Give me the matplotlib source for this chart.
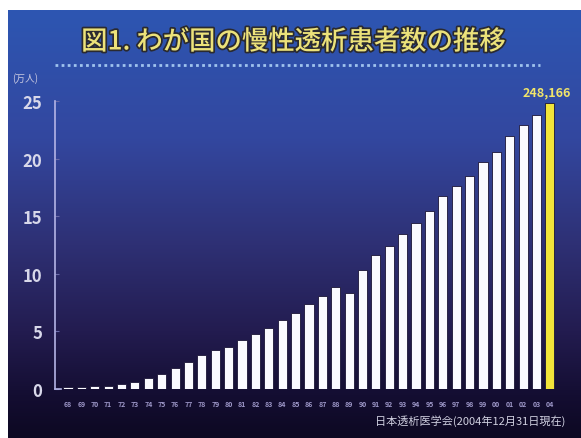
import numpy as np
import matplotlib
matplotlib.use("Agg")
import matplotlib.pyplot as plt
from matplotlib.colors import LinearSegmentedColormap
from matplotlib.lines import Line2D
from matplotlib.patheffects import withStroke

plt.rcParams['font.family'] = ['Noto Sans CJK JP', 'DejaVu Sans']

# data (unit: 10,000 persons)
years = ['68', '69', '70', '71', '72', '73', '74', '75', '76', '77', '78', '79',
         '80', '81', '82', '83', '84', '85', '86', '87', '88', '89', '90', '91',
         '92', '93', '94', '95', '96', '97', '98', '99', '00', '01', '02', '03', '04']
patients = [0.2, 0.2, 0.25, 0.3, 0.4, 0.65, 0.97, 1.31, 1.82, 2.31, 2.94, 3.36,
            3.64, 4.22, 4.8, 5.3, 5.98, 6.63, 7.35, 8.06, 8.85, 8.3, 10.33, 11.63,
            12.39, 13.43, 14.37, 15.44, 16.72, 17.6, 18.53, 19.72, 20.61, 21.92,
            22.95, 23.77, 24.82]
yticks = [0, 5, 10, 15, 20, 25]
last_label = "248,166"

W, H = 581, 439
fig = plt.figure(figsize=(W / 100, H / 100), dpi=100)
fig.patch.set_facecolor('white')

# gradient background panel
bg = fig.add_axes([8 / W, 0, 1 - 8 / W, (H - 11) / H])
bg.set_axis_off()
cmap = LinearSegmentedColormap.from_list(
    'bg', [(0.0, '#2d56b2'), (0.3, '#33479f'), (0.55, '#2e3074'),
           (0.75, '#231c50'), (0.9, '#140e32'), (1.0, '#0d0822')])
grad = np.linspace(0, 1, 256).reshape(-1, 1)
bg.imshow(grad, aspect='auto', cmap=cmap, extent=[0, 1, 0, 1])

# title
fig.text(0.505, 1 - 43 / H, "図1. わが国の慢性透析患者数の推移", ha='center', va='center',
         fontsize=19, fontweight='medium', color='#ece27a',
         path_effects=[withStroke(linewidth=2.5, foreground='#2a2a30')])
fig.add_artist(Line2D([55 / W, 540 / W], [1 - 66 / H, 1 - 66 / H],
                      color='#9fc3ee', linewidth=2, linestyle=(0, (1, 1.2))))
fig.text(12 / W, 1 - 79 / H, "(万人)", ha='left', va='center', fontsize=7,
         color='#c8c8e0')

# main chart
ax = fig.add_axes([54.6 / W, (H - 390) / H, (570 - 54.6) / W, 288 / H])
ax.patch.set_alpha(0)
x = np.arange(len(years))
colors = ['#fafaff'] * (len(years) - 1) + ['#f2e43a']
ax.bar(x, patients, width=0.68, color=colors, edgecolor='#1a1436', linewidth=0.6)
ax.set_xlim(-1, 37.5)
ax.set_ylim(0, 25)
for s in ['top', 'right', 'bottom']:
    ax.spines[s].set_visible(False)
ax.spines['left'].set_color('#b4b4e6')
ax.spines['left'].set_linewidth(1.2)
ax.set_yticks(yticks)
ax.set_yticklabels([str(t) for t in yticks], fontsize=12, color='#d8d8ea',
                   fontweight='bold')
ax.tick_params(axis='y', direction='in', length=3, color='#6a6aa8', pad=9)
ax.set_xticks(x)
ax.set_xticklabels(years, fontsize=5, color='#9d97c8', fontweight='bold')
ax.tick_params(axis='x', length=0, pad=8)
ax.plot([-1, -0.55], [0, 0], color='#b4b4e6', linewidth=1.2, clip_on=False)

ax.text(x[-1] + 1.6, patients[-1] + 0.4, last_label, ha='right', va='bottom',
        fontsize=9, fontweight='bold', color='#f0e46a')

fig.text(565 / W, 1 - 421 / H, "日本透析医学会(2004年12月31日現在)", ha='right',
         va='center', fontsize=8, color='#d0d0e0')

fig.savefig('out.png', dpi=100)
